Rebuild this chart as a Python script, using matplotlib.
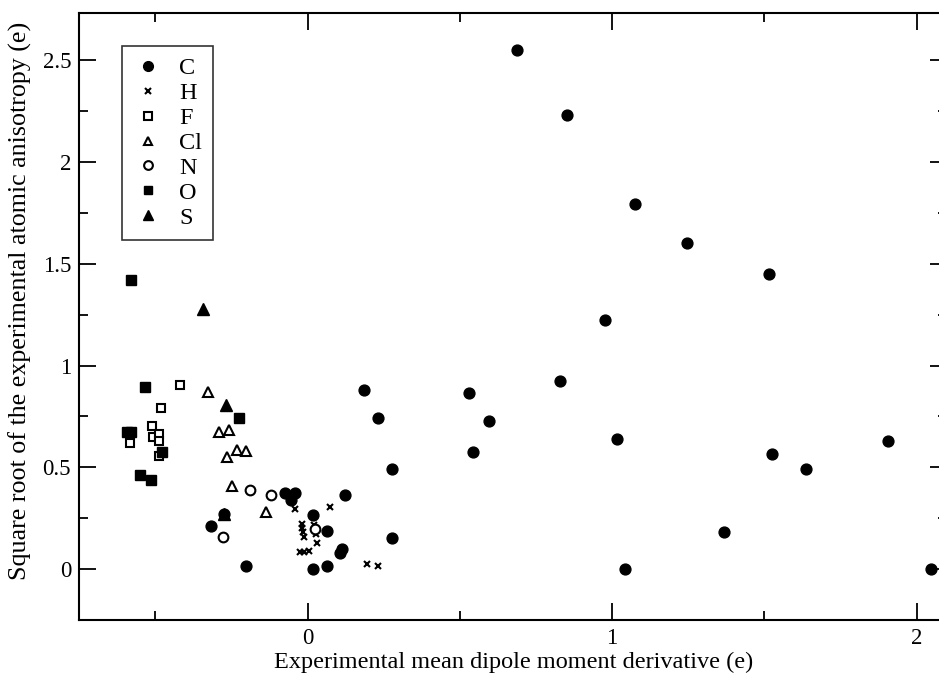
import matplotlib
matplotlib.use("Agg")
import matplotlib.pyplot as plt
from matplotlib.ticker import MultipleLocator

plt.rcParams["font.family"] = ["Liberation Serif", "DejaVu Serif"]

# values (x: mean dipole derivative, y: sqrt anisotropy)
c_x = [0.689, 0.851, 1.075, 1.247, 1.516, 0.978, 0.828, 0.529, 0.594, 1.015,
       0.543, 1.526, 1.638, 1.907, 1.369, 2.047, 1.041, 0.185, 0.231, 0.278,
       0.278, 0.123, -0.073, -0.041, -0.054, 0.017, 0.063, 0.107, 0.112, -0.203,
       0.016, 0.065, -0.317, -0.275]
c_y = [2.552, 2.230, 1.791, 1.603, 1.450, 1.224, 0.924, 0.866, 0.727, 0.639,
       0.573, 0.566, 0.491, 0.630, 0.183, 0.0, 0.0, 0.881, 0.743, 0.491,
       0.155, 0.363, 0.376, 0.373, 0.340, 0.267, 0.187, 0.079, 0.101, 0.016,
       0.0, 0.016, 0.213, 0.272]

h_x = [-0.040, 0.074, -0.020, 0.021, -0.018, -0.016, -0.011, 0.028, 0.032,
       -0.025, -0.011, 0.003, 0.196, 0.232]
h_y = [0.295, 0.307, 0.222, 0.219, 0.201, 0.180, 0.160, 0.173, 0.128,
       0.082, 0.085, 0.091, 0.026, 0.016]

f_x = [-0.421, -0.481, -0.511, -0.584, -0.508, -0.489, -0.488, -0.487]
f_y = [0.904, 0.789, 0.704, 0.619, 0.648, 0.663, 0.630, 0.555]

cl_x = [-0.329, -0.292, -0.260, -0.232, -0.202, -0.266, -0.248, -0.138]
cl_y = [0.868, 0.672, 0.684, 0.587, 0.581, 0.551, 0.409, 0.279]

n_x = [-0.189, -0.122, -0.279, 0.025]
n_y = [0.389, 0.362, 0.157, 0.195]

o_x = [-0.581, -0.535, -0.226, -0.592, -0.581, -0.480, -0.550, -0.513]
o_y = [1.421, 0.893, 0.743, 0.673, 0.673, 0.576, 0.462, 0.439]

s_x = [-0.343, -0.267, -0.275]
s_y = [1.277, 0.808, 0.272]

y_ticks = [0, 0.5, 1, 1.5, 2, 2.5]
y_tick_labels = ["0", "0.5", "1", "1.5", "2", "2.5"]

fig = plt.figure(figsize=(9.39, 6.75), dpi=100)
ax = fig.add_axes([0.0845, 0.0815, 0.924, 0.8988])

ax.plot(c_x, c_y, "o", color="black", markersize=7.8, label="C")
ax.plot(h_x, h_y, "x", color="black", markersize=5, markeredgewidth=1.5, label="H")
ax.plot(f_x, f_y, "s", markerfacecolor="white", markeredgecolor="black",
        markersize=6, markeredgewidth=1.5, label="F")
ax.plot(cl_x, cl_y, "^", markerfacecolor="white", markeredgecolor="black",
        markersize=7, markeredgewidth=1.5, label="Cl")
ax.plot(n_x, n_y, "o", markerfacecolor="white", markeredgecolor="black",
        markersize=7, markeredgewidth=1.5, label="N")
ax.plot(o_x, o_y, "s", color="black", markersize=7, label="O")
ax.plot(s_x, s_y, "^", color="black", markersize=8, label="S")

ax.set_xlim(-0.75, 2.1)
ax.set_ylim(-0.25, 2.73)
ax.xaxis.set_major_locator(MultipleLocator(1))
ax.xaxis.set_minor_locator(MultipleLocator(0.5))
ax.yaxis.set_minor_locator(MultipleLocator(0.25))
ax.set_yticks(y_ticks)
ax.set_yticklabels(y_tick_labels)

ax.tick_params(which="both", direction="in", top=True, right=True,
               labelsize=16.5, width=1.3, pad=6)
ax.tick_params(which="major", length=12)
ax.tick_params(which="minor", length=6.5)
for sp in ax.spines.values():
    sp.set_linewidth(1.5)

ax.set_xlabel("Experimental mean dipole moment derivative (e)", fontsize=17.5, labelpad=2)
ax.set_ylabel("Square root of the experimental atomic anisotropy (e)", fontsize=18.7)
ax.yaxis.set_label_coords(-0.054, 0.526)

leg = ax.legend(loc="upper left", bbox_to_anchor=(0.0495, 0.9456), borderaxespad=0,
                fontsize=17.5, frameon=True, fancybox=False, edgecolor="black",
                handlelength=1.2, handletextpad=0.7, labelspacing=0.12,
                borderpad=0.45, numpoints=1, markerscale=0.9)
leg.get_frame().set_linewidth(1.2)

fig.savefig("out.png", dpi=100)
